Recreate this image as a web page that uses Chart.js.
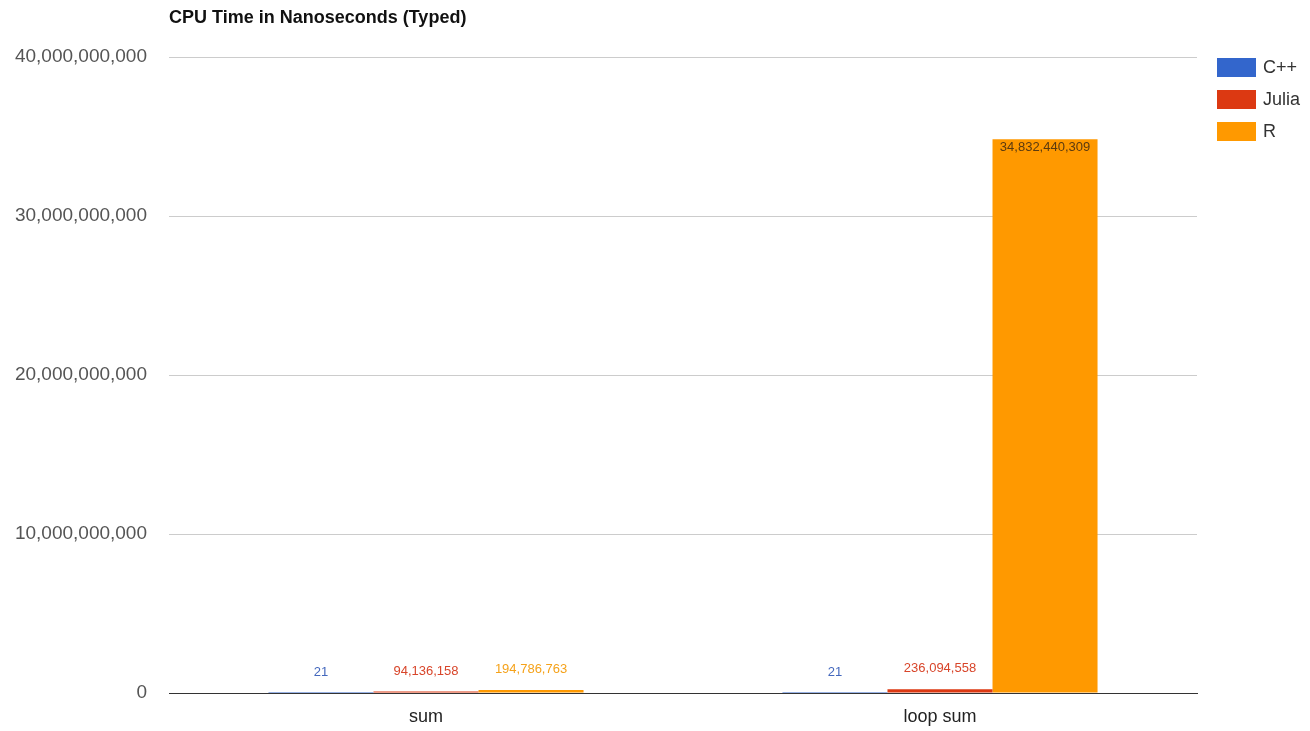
<!DOCTYPE html>
<html>
<head>
<meta charset="utf-8">
<script src="https://cdn.jsdelivr.net/npm/chart.js@4.4.0/dist/chart.umd.min.js"></script>
<style>
  html, body { margin: 0; padding: 0; background: #fff; }
  #wrap { position: relative; width: 1310px; height: 731px; }
  #title {
    position: absolute; left: 169px; top: 7px;
    font: bold 18px "Liberation Sans", Arial, sans-serif; color: #111;
  }
  #legend { position: absolute; left: 1217px; top: 58px; }
  .item { display: flex; align-items: center; height: 19px; margin-bottom: 13px;
    font: 18px "Liberation Sans", Arial, sans-serif; color: #333; }
  .swatch { width: 39px; height: 19px; margin-right: 7px; }
</style>
</head>
<body>
<div id="wrap">
  <div id="title">CPU Time in Nanoseconds (Typed)</div>
  <canvas id="cpuChart" width="1310" height="731"></canvas>
  <div id="legend"></div>
</div>
<script>
const categories = ["sum", "loop sum"];
const seriesNames = ["C++", "Julia", "R"];
const cppTimes = [21, 21];
const juliaTimes = [94136158, 236094558];
const rTimes = [194786763, 34832440309];
const yTicks = [0, 10000000000, 20000000000, 30000000000, 40000000000];

const seriesColors = ["#3366cc", "#dc3912", "#ff9900"];
const labelColors = ["#4468bd", "#d8452a", "#f5a21a"];
const FONT = "'Liberation Sans', Arial, sans-serif";

// values on top of bars (inside when the bar is tall enough)
const valueLabels = {
  id: "valueLabels",
  afterDatasetsDraw(chart) {
    const ctx = chart.ctx;
    ctx.save();
    ctx.font = "13px " + FONT;
    ctx.textAlign = "center";
    chart.data.datasets.forEach((ds, i) => {
      chart.getDatasetMeta(i).data.forEach((bar, j) => {
        const text = ds.data[j].toLocaleString("en-US");
        const h = bar.base - bar.y;
        if (h > 30) {
          ctx.fillStyle = "#5a3a10";
          ctx.textBaseline = "top";
          ctx.fillText(text, bar.x, bar.y + 2);
        } else {
          ctx.fillStyle = labelColors[i];
          ctx.textBaseline = "bottom";
          ctx.fillText(text, bar.x, bar.y - 14);
        }
      });
    });
    ctx.restore();
  }
};

const chart = new Chart(document.getElementById("cpuChart"), {
  type: "bar",
  data: {
    labels: categories,
    datasets: [
      { label: seriesNames[0], data: cppTimes, backgroundColor: seriesColors[0] },
      { label: seriesNames[1], data: juliaTimes, backgroundColor: seriesColors[1] },
      { label: seriesNames[2], data: rTimes, backgroundColor: seriesColors[2] }
    ]
  },
  options: {
    responsive: false,
    animation: false,
    layout: { padding: { top: 57, left: 0, right: 113, bottom: 0 } },
    datasets: { bar: { barPercentage: 1, categoryPercentage: 0.613 } },
    plugins: {
      title: { display: false },
      tooltip: { enabled: false },
      legend: { display: false }
    },
    scales: {
      x: {
        afterFit(axis) { axis.height = 38; },
        grid: { display: false, drawTicks: false },
        border: { color: "#333" },
        ticks: {
          color: "#222",
          padding: 13,
          font: { family: FONT, size: 18 }
        }
      },
      y: {
        min: 0,
        max: 40000000000,
        afterFit(axis) { axis.width = 169; },
        afterBuildTicks(axis) { axis.ticks = yTicks.map(v => ({ value: v })); },
        border: { display: false },
        grid: {
          color: (c) => c.tick && c.tick.value === 0 ? "#333" : "#ccc",
          drawTicks: false
        },
        ticks: {
          color: "#555",
          padding: 22,
          font: { family: FONT, size: 19 },
          callback: (v) => v.toLocaleString("en-US")
        }
      }
    }
  },
  plugins: [valueLabels]
});

// legend built from the chart's datasets
document.getElementById("legend").innerHTML = chart.data.datasets
  .map((ds) => `<div class="item"><span class="swatch" style="background:${ds.backgroundColor}"></span>${ds.label}</div>`)
  .join("");
</script>
</body>
</html>
